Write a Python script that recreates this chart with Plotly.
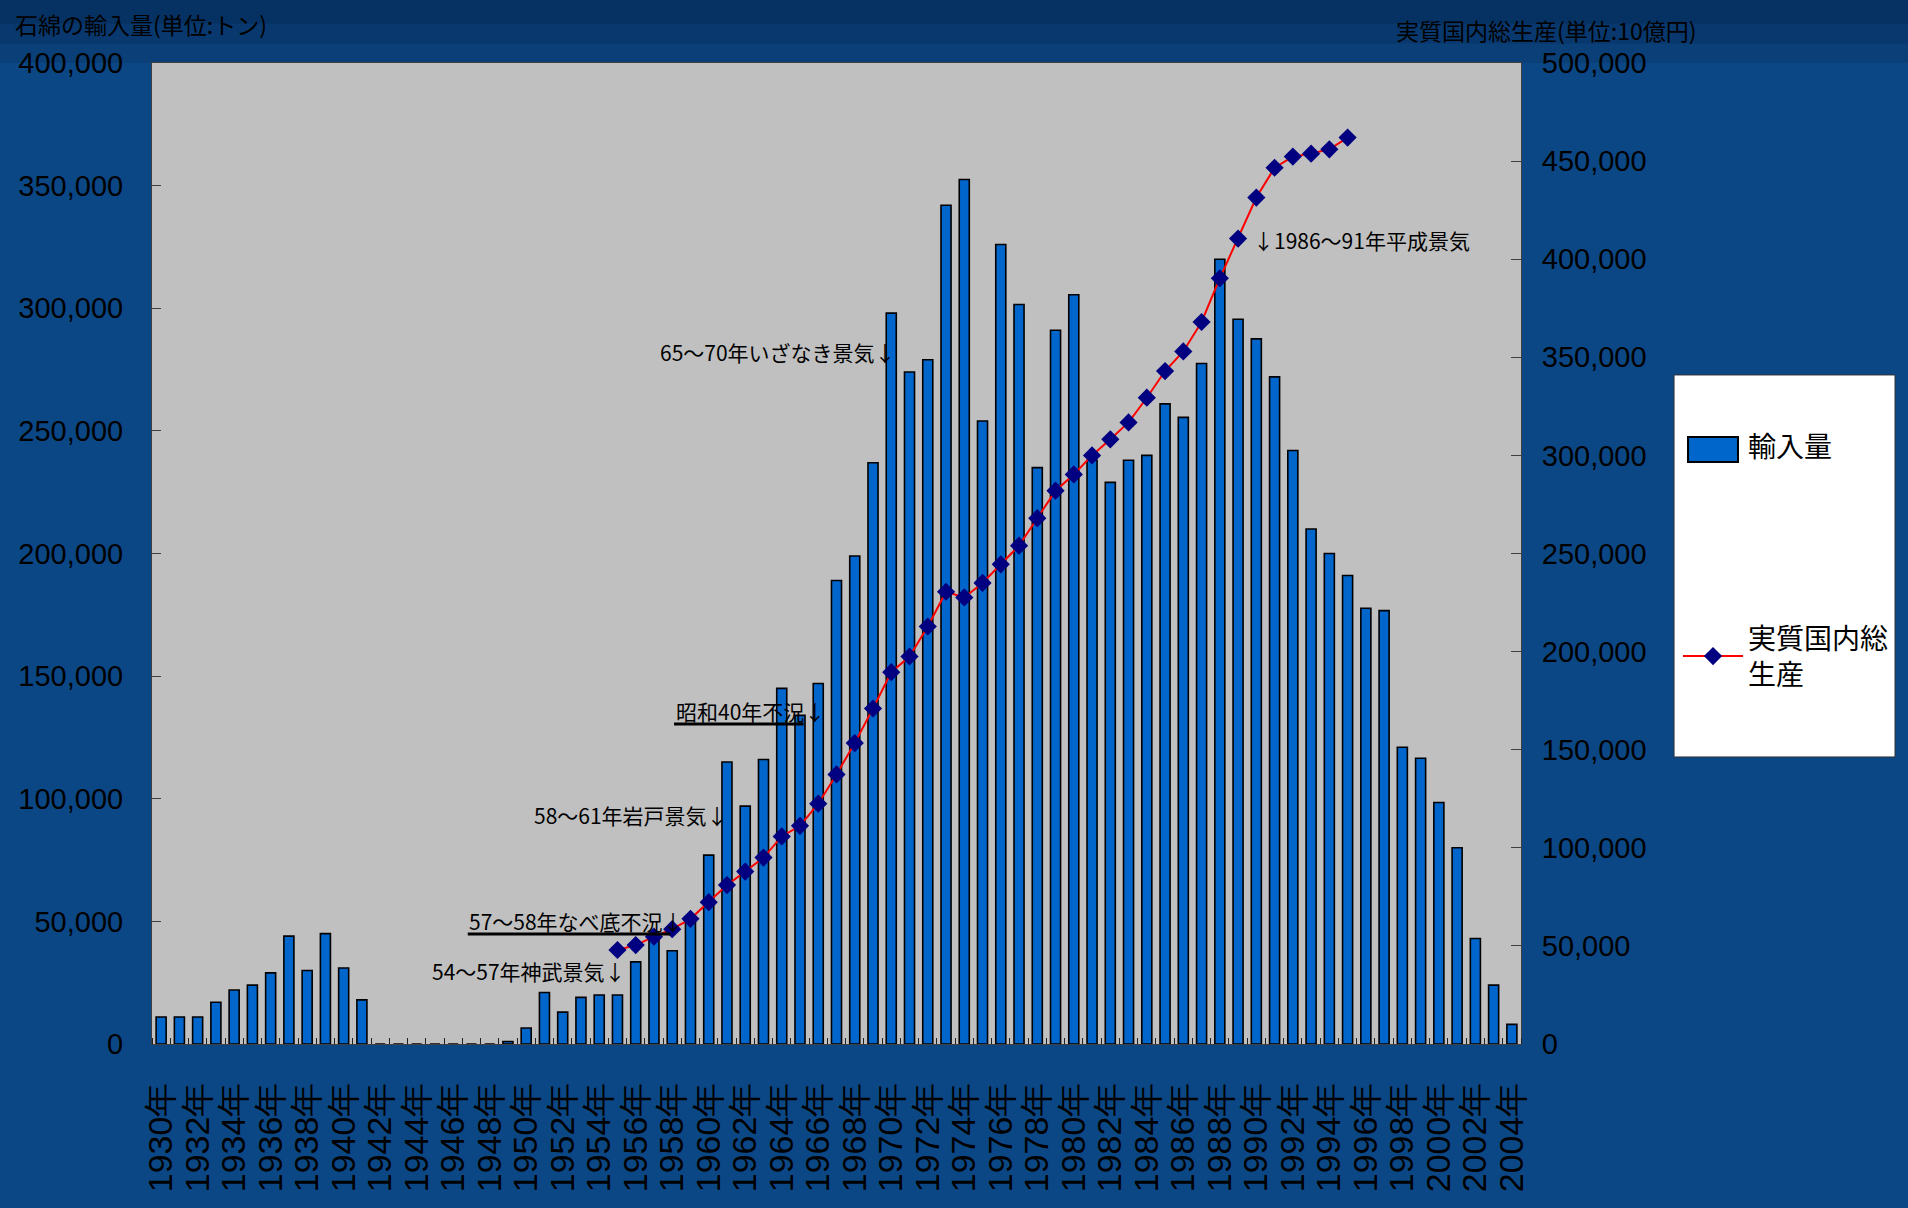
import plotly.graph_objects as go

# ---------------- data ----------------
years = list(range(1930, 2005))
imports = [
    11000, 11000, 11000, 17000, 22000, 24000, 29000, 44000, 30000, 45000,   # 1930-1939
    31000, 18000, 0, 0, 0, 0, 0, 0, 0, 1000,                                # 1940-1949
    6500, 21000, 13000, 19000, 20000, 20000, 33500, 44000, 38000, 51000,    # 1950-1959
    77000, 115000, 97000, 116000, 145000, 134000, 147000, 189000, 199000, 237000,  # 1960-1969
    298000, 274000, 279000, 342000, 352500, 254000, 326000, 301500, 235000, 291000,  # 1970-1979
    305500, 238000, 229000, 238000, 240000, 261000, 255500, 277500, 320000, 295500,  # 1980-1989
    287500, 272000, 242000, 210000, 200000, 191000, 177700, 176700, 121000, 116500,  # 1990-1999
    98500, 80000, 43000, 24000, 8000,                                       # 2000-2004
]
gdp_years = list(range(1955, 1996))
gdp = [
    47900, 50400, 54700, 58500, 63800,
    72300, 81000, 87900, 95000, 105800,
    111200, 122500, 137400, 153400, 171000,
    189500, 197500, 212800, 230500, 227600,
    235000, 244500, 254000, 268000, 282000,
    290300, 300000, 308200, 316800, 329400,
    343000, 353000, 368000, 390300, 410500,
    431400, 446600, 452300, 453800, 456000,
    462000,
]
label_years = years[::2]
x_labels = [f"{y}年" for y in label_years]
left_ticks = list(range(0, 400001, 50000))
right_ticks = list(range(0, 500001, 50000))
boundaries = [y - 0.5 for y in years] + [years[-1] + 0.5]

series_names = ["輸入量", "実質国内総<br>生産"]
left_title = "石綿の輸入量(単位:トン)"
right_title = "実質国内総生産(単位:10億円)"

JP = "Noto Sans CJK JP, Noto Sans, sans-serif"
LAT = "Liberation Sans, Arial, sans-serif"
BAR_COLOR = "#0066cc"

fig = go.Figure()
fig.add_trace(go.Bar(
    x=years, y=imports, name=series_names[0], legendgroup="a", showlegend=False,
    width=0.55,
    marker=dict(color=BAR_COLOR, line=dict(color="black", width=1.6)),
    yaxis="y",
))
# legend entry for the bars (its key is drawn as a wide rectangle shape below)
fig.add_trace(go.Scatter(
    x=[None], y=[None], name=series_names[0], legendgroup="a",
    mode="lines", line=dict(color="rgba(0,0,0,0)", width=1), yaxis="y",
))
fig.add_trace(go.Scatter(
    x=gdp_years, y=gdp, name=series_names[1], legendgroup="b",
    mode="lines+markers",
    line=dict(color="#ff0000", width=2),
    marker=dict(symbol="diamond", size=14, color="#000080"),
    yaxis="y2",
))

axis_common = dict(showgrid=False, zeroline=False, showline=True, linecolor="#404040",
                   linewidth=1, automargin=False)

fig.update_layout(
    width=1908, height=1208,
    margin=dict(l=152, r=387, t=63, b=164, autoexpand=False),
    paper_bgcolor="#0c4785",
    plot_bgcolor="#c0c0c0",
    showlegend=True,
    xaxis=dict(
        **axis_common, mirror=True,
        range=[1929.5, 2004.5],
        tickmode="array", tickvals=label_years, ticktext=x_labels,
        tickangle=-90, ticks="",
        tickfont=dict(family=LAT, size=34, color="black"),
        ticklabelstandoff=24,
        minor=dict(tickmode="array", tickvals=boundaries, ticks="inside",
                   ticklen=6, tickcolor="#202020", tickwidth=1, showgrid=False),
    ),
    yaxis=dict(
        **axis_common,
        range=[0, 400000],
        tickmode="array", tickvals=left_ticks, tickformat=",",
        ticks="inside", ticklen=9, tickcolor="#404040",
        tickfont=dict(family=LAT, size=29, color="black"),
        ticklabelstandoff=22,
    ),
    yaxis2=dict(
        **axis_common,
        overlaying="y", side="right",
        range=[0, 500000],
        tickmode="array", tickvals=right_ticks, tickformat=",",
        ticks="inside", ticklen=10, tickcolor="#404040",
        tickfont=dict(family=LAT, size=29, color="black"),
        ticklabelstandoff=14,
    ),
    legend=dict(
        x=1.1147, y=0.674, xanchor="left", yanchor="top",
        bgcolor="rgba(0,0,0,0)", borderwidth=0,
        font=dict(family=JP, size=28, color="black"),
        traceorder="grouped", tracegroupgap=152, itemwidth=60,
        title=dict(text=" ", font=dict(family=JP, size=30)),
    ),
)

# legend frame (white box)
fig.add_shape(type="rect", xref="paper", yref="paper", x0=1.1118, x1=1.2732, y0=0.2926, y1=0.682,
              fillcolor="white", line=dict(color="#333333", width=1), layer="above")
# bar key in the legend
fig.add_shape(type="rect", xref="paper", yref="paper", x0=1.1220, x1=1.1585, y0=0.5933, y1=0.6188,
              fillcolor=BAR_COLOR, line=dict(color="black", width=2), layer="above")

# darker shading along the top of the page (outside plot area)
for y0, alpha in [(1.0, 0.15), (1.02, 0.15), (1.04, 0.15)]:
    fig.add_shape(type="rect", xref="paper", yref="paper", x0=-0.2, x1=1.4, y0=y0, y1=1.07,
                  fillcolor=f"rgba(2,20,45,{alpha})", line=dict(width=0), layer="below")

ann_font = dict(family=JP, size=21, color="black")
annotations = [
    dict(text="65～70年いざなき景気↓", x=1970.35, y=282000, xanchor="right"),
    dict(text="昭和40年不況↓", x=1966.47, y=135800, xanchor="right"),
    dict(text="58～61年岩戸景気↓", x=1961.15, y=93400, xanchor="right"),
    dict(text="57～58年なべ底不況↓", x=1958.77, y=50200, xanchor="right"),
    dict(text="54～57年神武景気↓", x=1955.55, y=29800, xanchor="right"),
    dict(text="↓1986～91年平成景気", x=1989.73, y=327800, xanchor="left"),
]
for a in annotations:
    fig.add_annotation(xref="x", yref="y", yanchor="middle", showarrow=False, font=ann_font, **a)

# underlines below two labels
fig.add_shape(type="line", xref="x", yref="y", x0=1958.1, x1=1965.2, y0=130500, y1=130500,
              line=dict(color="black", width=3))
fig.add_shape(type="line", xref="x", yref="y", x0=1946.8, x1=1957.9, y0=44850, y1=44850,
              line=dict(color="black", width=3))

# axis titles
fig.add_annotation(text=left_title, xref="paper", yref="paper", x=-0.1015, y=1.0398,
                   xanchor="left", yanchor="middle", showarrow=False,
                   font=dict(family=JP, size=23, color="black"))
fig.add_annotation(text=right_title, xref="paper", yref="paper", x=0.9072, y=1.0336,
                   xanchor="left", yanchor="middle", showarrow=False,
                   font=dict(family=JP, size=23, color="black"))

fig.write_html("out.html")
